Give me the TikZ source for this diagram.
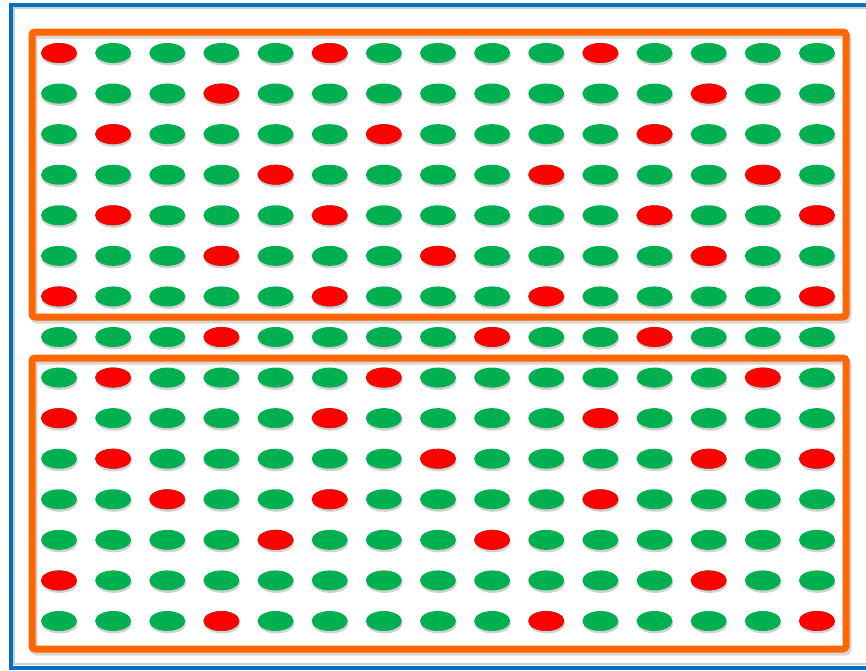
\documentclass[tikz,border=0pt]{standalone}
\usepackage{tikz}
\usetikzlibrary{shadows}
\definecolor{dotgreen}{RGB}{0,176,80}
\definecolor{dotred}{RGB}{255,0,0}
\definecolor{boxorange}{RGB}{255,102,0}
\definecolor{frameblue}{RGB}{0,112,192}

\begin{document}
\begin{tikzpicture}[
    x=1pt, y=-1pt,
    greendot/.style={fill=dotgreen,
                     drop shadow={shadow xshift=0.8pt, shadow yshift=-2.5pt, opacity=0.3, fill=black!60}},
    reddot/.style={fill=dotred},
    groupbox/.style={draw=boxorange, line width=7pt, rounded corners=3pt},
    boxshadow/.style={draw=black!45, opacity=0.35, line width=7pt, rounded corners=3pt},
    outerframe/.style={draw=frameblue, line width=4pt}
]
\useasboundingbox (0,0) rectangle (866,670);
\clip (0,0) rectangle (866,670);

% Outer frame
\draw[black!20, line width=2pt] (14,8) rectangle (890,664);
\draw[outerframe] (11,5) rectangle (890,668);

% Group boxes
\draw[boxshadow] (34,35) rectangle (848,320);
\draw[boxshadow] (34,361) rectangle (848,652);
\draw[groupbox] (32,32) rectangle (846,317);
\draw[groupbox] (32,358) rectangle (846,649);

% All dots green
\foreach \r in {1,...,15}
  \foreach \c in {1,...,15}
    \fill[greendot] ({59+54.14*(\c-1)},{53+40.57*(\r-1)}) ellipse [x radius=18pt, y radius=10pt];

% Red dots on top
\foreach \r/\c in {1/1,1/6,1/11, 2/4,2/13, 3/2,3/7,3/12, 4/5,4/10,4/14,
                   5/2,5/6,5/12,5/15, 6/4,6/8,6/13, 7/1,7/6,7/10,7/15,
                   8/4,8/9,8/12, 9/2,9/7,9/14, 10/1,10/6,10/11,
                   11/2,11/8,11/13,11/15, 12/3,12/6,12/11, 13/5,13/9,
                   14/1,14/13, 15/4,15/10,15/15}
  \fill[reddot] ({59+54.14*(\c-1)},{53+40.57*(\r-1)}) ellipse [x radius=18pt, y radius=10pt];

\end{tikzpicture}
\end{document}
